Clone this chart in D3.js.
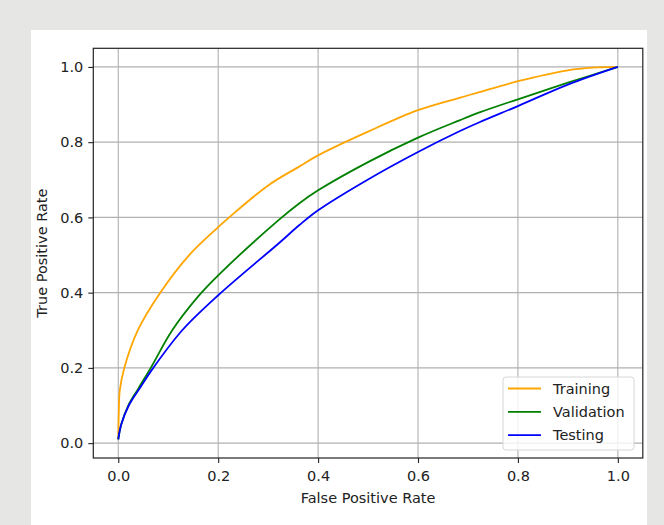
<!DOCTYPE html>
<html>
<head>
<meta charset="utf-8">
<script src="https://cdn.jsdelivr.net/npm/d3@7"></script>
<style>
  body { margin: 0; background: #e6e6e5; }
  svg { display: block; font-family: "DejaVu Sans", sans-serif; }
</style>
</head>
<body>
<svg id="roc" width="664" height="525"></svg>
<script>
// ROC curve points: [fpr, tpr]
var training = [[0,0.01],[0.001,0.08],[0.003,0.14],[0.012,0.2],[0.039,0.3],[0.084,0.4],[0.142,0.5],[0.2,0.574],[0.222,0.6],[0.3,0.685],[0.362,0.735],[0.4,0.765],[0.5,0.828],[0.6,0.885],[0.683,0.918],[0.723,0.933],[0.8,0.962],[0.9,0.991],[0.95,0.998],[1,1]]
var validation = [[0,0.01],[0.006,0.05],[0.02,0.1],[0.04,0.145],[0.065,0.2],[0.108,0.3],[0.16,0.39],[0.2,0.446],[0.322,0.594],[0.362,0.637],[0.4,0.672],[0.5,0.747],[0.6,0.812],[0.683,0.858],[0.723,0.879],[0.8,0.914],[0.9,0.958],[1,1]]
var testing = [[0,0.01],[0.006,0.05],[0.021,0.1],[0.045,0.15],[0.07,0.2],[0.128,0.3],[0.2,0.393],[0.322,0.532],[0.362,0.579],[0.4,0.619],[0.5,0.701],[0.6,0.774],[0.683,0.829],[0.723,0.853],[0.8,0.896],[0.9,0.953],[1,1]]
var seriesNames = ["Training", "Validation", "Testing"]
var seriesColors = ["orange", "green", "blue"]
var ticks = [0, 0.2, 0.4, 0.6, 0.8, 1.0]

var fontSize = 14.5
var svg = d3.select("#roc")

// white figure panel
svg.append("rect")
  .attr("x", 31).attr("y", 30)
  .attr("width", 616).attr("height", 495)
  .attr("fill", "#fff")

var axLeft = 93.3, axRight = 642.8, axTop = 48.3, axBottom = 458

var x = d3.scaleLinear().domain([-0.05, 1.05]).range([axLeft, axRight])
var y = d3.scaleLinear().domain([-0.0395, 1.0495]).range([axBottom, axTop])

// grid
var grid = svg.append("g").attr("stroke", "#b0b0b0").attr("stroke-width", 1.1)
grid.selectAll(".gx").data(ticks).enter().append("line")
  .attr("x1", d => x(d)).attr("x2", d => x(d))
  .attr("y1", axTop).attr("y2", axBottom)
grid.selectAll(".gy").data(ticks).enter().append("line")
  .attr("y1", d => y(d)).attr("y2", d => y(d))
  .attr("x1", axLeft).attr("x2", axRight)

// curves
var line = d3.line()
  .x(d => x(d[0]))
  .y(d => y(d[1]))
  .curve(d3.curveCatmullRom.alpha(0.5))

var data = [training, validation, testing]
svg.append("g").selectAll("path")
  .data(data)
  .enter().append("path")
  .attr("d", line)
  .attr("fill", "none")
  .attr("stroke", (d, i) => seriesColors[i])
  .attr("stroke-width", 1.8)
  .attr("stroke-linejoin", "round")

// axes
var xAxis = d3.axisBottom(x).tickValues(ticks).tickFormat(d3.format(".1f")).tickSize(5).tickPadding(8)
var yAxis = d3.axisLeft(y).tickValues(ticks).tickFormat(d3.format(".1f")).tickSize(5).tickPadding(5)

var gx = svg.append("g").attr("transform", "translate(0," + axBottom + ")").call(xAxis)
var gy = svg.append("g").attr("transform", "translate(" + axLeft + ",0)").call(yAxis)
;[gx, gy].forEach(function (g) {
  g.select(".domain").remove()
  g.selectAll("line").attr("stroke", "#222").attr("stroke-width", 1.1)
  g.selectAll("text").attr("font-size", fontSize).attr("fill", "#222").attr("font-family", "DejaVu Sans, sans-serif")
})

// frame
svg.append("rect")
  .attr("x", axLeft).attr("y", axTop)
  .attr("width", axRight - axLeft).attr("height", axBottom - axTop)
  .attr("fill", "none").attr("stroke", "#222").attr("stroke-width", 1.2)

// axis labels
svg.append("text")
  .attr("x", (axLeft + axRight) / 2).attr("y", 503)
  .attr("text-anchor", "middle")
  .attr("font-size", fontSize).attr("fill", "#222")
  .text("False Positive Rate")

svg.append("text")
  .attr("transform", "translate(47," + ((axTop + axBottom) / 2) + ") rotate(-90)")
  .attr("text-anchor", "middle")
  .attr("font-size", fontSize).attr("fill", "#222")
  .text("True Positive Rate")

// legend
var legend = svg.append("g")
legend.append("rect")
  .attr("x", 503).attr("y", 377)
  .attr("width", 131).attr("height", 73)
  .attr("rx", 3)
  .attr("fill", "#fff").attr("fill-opacity", 0.8)
  .attr("stroke", "#d6d6d6").attr("stroke-width", 1)

var rows = legend.selectAll(".row").data(seriesNames).enter().append("g")
  .attr("transform", (d, i) => "translate(0," + (388.5 + i * 23.3) + ")")
rows.append("line")
  .attr("x1", 508).attr("x2", 541)
  .attr("stroke", (d, i) => seriesColors[i])
  .attr("stroke-width", 1.8)
rows.append("text")
  .attr("x", 553).attr("dy", "0.35em")
  .attr("font-size", fontSize).attr("fill", "#222")
  .text(d => d)
</script>
</body>
</html>
